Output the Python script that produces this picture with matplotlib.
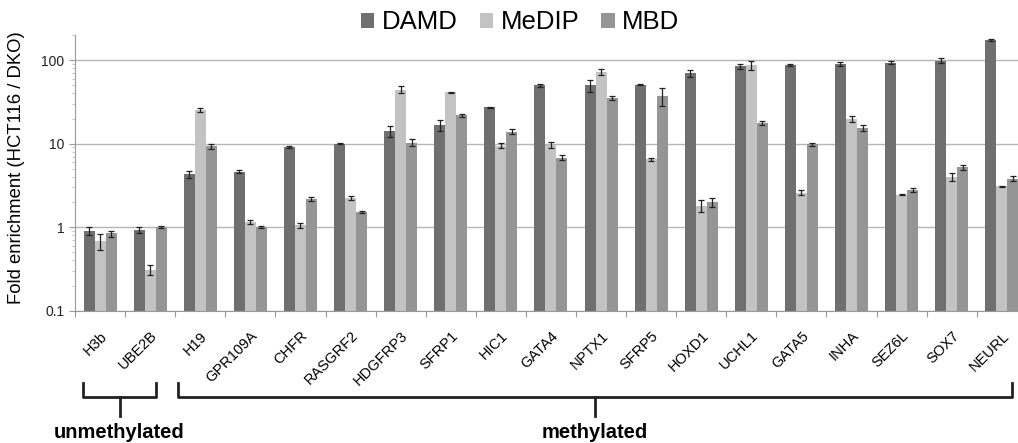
import numpy as np
import matplotlib
matplotlib.use("Agg")
from matplotlib import pyplot as plt
from matplotlib.patches import Patch
from matplotlib.ticker import LogLocator, NullFormatter

plt.rcParams['font.family'] = ['Liberation Sans', 'DejaVu Sans']

genes = ["H3b", "UBE2B", "H19", "GPR109A", "CHFR", "RASGRF2", "HDGFRP3",
         "SFRP1", "HIC1", "GATA4", "NPTX1", "SFRP5", "HOXD1", "UCHL1",
         "GATA5", "INHA", "SEZ6L", "SOX7", "NEURL"]

damd = [0.9, 0.93, 4.3, 4.6, 9.1, 10.0, 14.1, 16.8, 27.2, 50, 50, 51,
        70, 84, 87, 89, 93, 99, 174]
damd_err = [0.1, 0.08, 0.4, 0.2, 0.15, 0.15, 2.0, 2.5, 0.6, 2.0, 8.0, 0.8,
            7.0, 5.0, 3.0, 5.0, 4.0, 6.0, 6.0]

medip = [0.68, 0.31, 25.2, 1.16, 1.05, 2.24, 44.5, 41, 9.5, 9.7, 73, 6.5,
         1.8, 88, 2.6, 19.8, 2.45, 4.0, 3.07]
medip_err = [0.14, 0.04, 1.5, 0.06, 0.07, 0.15, 4.0, 1.0, 0.7, 0.8, 6.0, 0.3,
             0.3, 11.0, 0.2, 1.7, 0.04, 0.4, 0.04]

mbd = [0.84, 1.0, 9.3, 1.0, 2.17, 1.52, 10.3, 21.8, 13.9, 6.8, 35.5, 37,
       1.98, 17.9, 9.8, 15.3, 2.77, 5.2, 3.8]
mbd_err = [0.07, 0.02, 0.7, 0.03, 0.12, 0.05, 1.0, 0.8, 0.9, 0.5, 2.0, 9.0,
           0.25, 1.0, 0.5, 1.3, 0.15, 0.3, 0.25]

series = ["DAMD", "MeDIP", "MBD"]
colors = ["#6f6f6f", "#c3c3c3", "#959595"]

fig = plt.figure(figsize=(10.18, 4.43), dpi=100)
ax = fig.add_axes([0.0737, 0.2987, 0.935, 0.6223])

x = np.arange(len(genes))
w = 0.22
vals = [damd, medip, mbd]
errs = [damd_err, medip_err, mbd_err]
for i in range(3):
    ax.bar(x + (i - 1) * w, vals[i], w, color=colors[i], zorder=2,
           yerr=errs[i], error_kw=dict(ecolor="#222222", elinewidth=0.9,
                                       capsize=2.2, capthick=0.9))

ax.set_yscale("log")
ax.set_ylim(0.1, 200)
ax.set_xlim(-0.5, len(genes) - 0.5)
ax.set_yticks([0.1, 1, 10, 100])
ax.set_yticklabels(["0.1", "1", "10", "100"], fontsize=10, color="#222222")
ax.yaxis.set_minor_locator(LogLocator(base=10, subs=np.arange(2, 10)))
ax.yaxis.set_minor_formatter(NullFormatter())
ax.yaxis.grid(True, which="major", color="#b5b5b5", lw=1, zorder=0)
ax.tick_params(axis="y", which="major", length=4, color="#999999")
ax.tick_params(axis="y", which="minor", length=2.5, color="#bbbbbb")

# ticks between groups, labels at group centres
ax.set_xticks(np.arange(len(genes) + 1) - 0.5)
ax.set_xticklabels([])
ax.set_xticks(x, minor=True)
ax.set_xticklabels(genes, minor=True, rotation=45, ha="right",
                   rotation_mode="anchor", fontsize=10.5)
ax.tick_params(axis="x", which="major", length=4, color="#999999")
ax.tick_params(axis="x", which="minor", length=0, pad=13)

for s in ["top", "right"]:
    ax.spines[s].set_visible(False)
ax.spines["left"].set_color("#999999")
ax.spines["bottom"].set_color("#999999")

ax.set_ylabel("Fold enrichment (HCT116 / DKO)", fontsize=13.3)
ax.yaxis.set_label_coords(-0.053, 0.518)

handles = [Patch(facecolor=c, label=s) for c, s in zip(colors, series)]
fig.legend(handles=handles, loc="center", bbox_to_anchor=(0.511, 0.95),
           ncol=3, frameon=False, fontsize=18.5, handlelength=0.52,
           handleheight=0.52, handletextpad=0.3, columnspacing=0.85,
           borderpad=0)

# group brackets below the axis (pixel coords of figure)
def px(xp, yp):
    return xp / 1018, 1 - yp / 443

def bracket(x0, x1, label):
    xm = (x0 + x1) / 2
    pts = [px(x0, 383), px(x0, 397), px(x1, 397), px(x1, 383)]
    fig.add_artist(plt.Line2D([p[0] for p in pts], [p[1] for p in pts],
                              color="#222222", lw=2))
    a, b = px(xm, 397), px(xm, 416)
    fig.add_artist(plt.Line2D([a[0], b[0]], [a[1], b[1]], color="#222222", lw=2))
    t = px(xm, 432)
    fig.text(t[0], t[1], label, ha="center", va="center", fontsize=14.5,
             fontweight="bold")

bracket(83, 156, "unmethylated")
bracket(178, 1012, "methylated")

fig.savefig("out.png", dpi=100)
